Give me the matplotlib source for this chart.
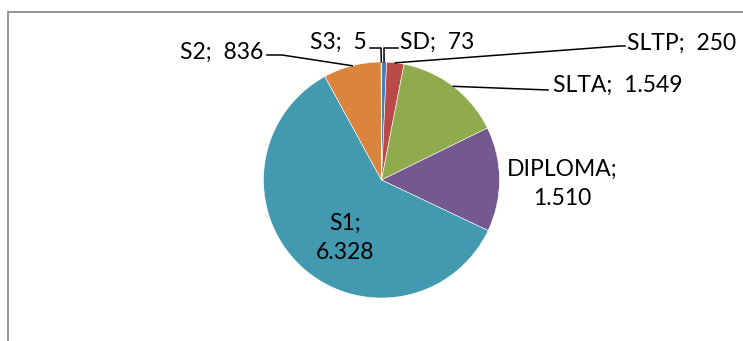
import numpy as np
import matplotlib
matplotlib.use("Agg")
import matplotlib.pyplot as plt

# datos de la tarta (orden en sentido horario desde las 12)
categorias = ["SD", "SLTP", "SLTA", "DIPLOMA", "S1", "S2", "S3"]
valores = [73, 250, 1549, 1510, 6328, 836, 5]
etiquetas = ["SD;  73", "SLTP;  250", "SLTA;  1.549", "DIPLOMA;\n1.510",
             "S1;\n6.328", "S2;  836", "S3;  5"]
colores = ["#4A7EBB", "#BA4A47", "#8FAB4E", "#74598F", "#4399B0",
           "#DB843D", "#3F6CA8"]

W, H = 743, 341
plt.rcParams['font.family'] = ['Lato', 'DejaVu Sans']

fig = plt.figure(figsize=(W / 100, H / 100), dpi=100)
ax = fig.add_axes([0, 0, 1, 1])
ax.set_xlim(0, W)
ax.set_ylim(0, H)
ax.set_aspect('equal')
ax.axis('off')

# centro y radio en pixeles
cx, cy, r = 381.5, H - 180, 118

wedges, _ = ax.pie(valores, colors=colores, startangle=90, counterclock=False,
                   center=(cx, cy), radius=r, frame=True,
                   wedgeprops=dict(edgecolor='white', linewidth=0.4))
ax.set_xlim(0, W)
ax.set_ylim(0, H)
ax.axis('off')


def punto_borde(w):
    # punto del borde en el angulo medio de la porcion
    ang = np.deg2rad((w.theta1 + w.theta2) / 2)
    return cx + r * np.cos(ang), cy + r * np.sin(ang)


def y(v):
    return H - v


fs = 16.5
# etiquetas con linea guia: (texto x, texto y, alineacion, codo)
guias = {
    "S2": ((263, 52, 'right'), [(267, 55), (282, 55)]),
    "S3": ((367, 42, 'right'), [(370, 48), (381, 48)]),
    "SD": ((400, 42, 'left'), [(398, 48), (384, 48)]),
    "SLTP": ((627, 43, 'left'), [(625, 46), (620, 46)]),
    "SLTA": ((553, 85, 'left'), [(548, 90)]),
}
for cat, w, lab in zip(categorias, wedges, etiquetas):
    if cat in guias:
        (tx, ty, ha), codo = guias[cat]
        ax.text(tx, y(ty), lab, ha=ha, va='center', fontsize=fs)
        bx, by = punto_borde(w)
        xs = [p[0] for p in codo] + [bx]
        ys = [y(p[1]) for p in codo] + [by]
        ax.plot(xs, ys, color='black', linewidth=1.1)

# etiquetas dentro / junto a la tarta
ax.text(562, y(184), etiquetas[3], ha='center', va='center', fontsize=fs,
        linespacing=1.45)
ax.text(345, y(238), etiquetas[4], ha='center', va='center', fontsize=fs,
        linespacing=1.45)

# marco del grafico (recortado)
ax.plot([8, 8, W], [0, y(12), y(12)], color='#8C8C8C', linewidth=1.3,
        solid_joinstyle='miter')

fig.savefig("out.png", dpi=100)
